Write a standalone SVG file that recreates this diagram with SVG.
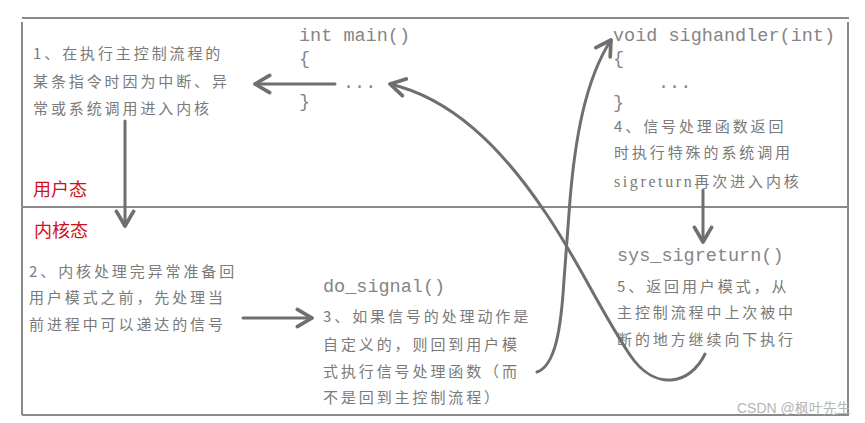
<svg xmlns="http://www.w3.org/2000/svg" width="865" height="423" viewBox="0 0 865 423">
<style>
.frame{stroke:#8a8a8a;stroke-width:2;fill:none}
.cn{font-family:"Noto Sans CJK SC","Liberation Sans",sans-serif;font-size:15px;fill:#7a7a7a;letter-spacing:2.9px}
.serif{font-family:"Liberation Serif",serif;font-size:16px;letter-spacing:2.6px}
.code{font-family:"Liberation Mono","DejaVu Sans Mono",monospace;font-size:18.5px;fill:#858585}
.mode{font-family:"Noto Sans CJK SC","Liberation Sans",sans-serif;font-size:18px;fill:#d0101a}
.conn{stroke:#6f6f6f;stroke-width:3;fill:none;stroke-linecap:round}
.wm{font-family:"Liberation Sans","Noto Sans CJK SC",sans-serif;font-size:14px;fill:#b5b5b5}
</style>
<defs>
<marker id="ah" markerUnits="userSpaceOnUse" markerWidth="22" markerHeight="22" refX="14" refY="9" orient="auto" viewBox="0 0 18 18">
<path d="M2,2 L14,9 L2,16" fill="none" stroke="#6f6f6f" stroke-width="3" stroke-linecap="round" stroke-linejoin="round"/>
</marker>
</defs>
<rect width="865" height="423" fill="#ffffff"/>
<g id="frame">
<line class="frame" x1="22" y1="18" x2="849" y2="18"/>
<line class="frame" x1="22" y1="22" x2="22" y2="415"/>
<line class="frame" x1="848" y1="22" x2="848" y2="415"/>
<line class="frame" x1="22" y1="415" x2="849" y2="415"/>
<line class="frame" x1="22" y1="207" x2="848" y2="207"/>
</g>
<g id="user-mode"><text class="mode" x="33" y="196">用户态</text></g>
<g id="kernel-mode"><text class="mode" x="34" y="237">内核态</text></g>
<g id="step1">
<text class="cn" x="33" y="59">1、在执行主控制流程的</text>
<text class="cn" x="33" y="87">某条指令时因为中断、异</text>
<text class="cn" x="33" y="114">常或系统调用进入内核</text>
</g>
<g id="main">
<text class="code" x="299" y="41">int main()</text>
<text class="code" x="299" y="64">{</text>
<text class="code" x="343" y="88">...</text>
<text class="code" x="299" y="107">}</text>
</g>
<g id="sighandler">
<text class="code" x="613" y="41">void sighandler(int)</text>
<text class="code" x="613" y="64">{</text>
<text class="code" x="658" y="88">...</text>
<text class="code" x="613" y="108">}</text>
</g>
<g id="step4">
<text class="cn" x="614" y="132">4、信号处理函数返回</text>
<text class="cn" x="614" y="158">时执行特殊的系统调用</text>
<text class="cn" x="614" y="187"><tspan class="serif">sigreturn</tspan>再次进入内核</text>
</g>
<g id="step2">
<text class="cn" x="29" y="277">2、内核处理完异常准备回</text>
<text class="cn" x="29" y="303">用户模式之前，先处理当</text>
<text class="cn" x="29" y="330">前进程中可以递达的信号</text>
</g>
<g id="do_signal">
<text class="code" x="323" y="292">do_signal()</text>
<text class="cn" x="323" y="322">3、如果信号的处理动作是</text>
<text class="cn" x="323" y="350">自定义的，则回到用户模</text>
<text class="cn" x="323" y="377">式执行信号处理函数（而</text>
<text class="cn" x="323" y="403">不是回到主控制流程）</text>
</g>
<g id="sys_sigreturn">
<text class="code" x="617" y="261">sys_sigreturn()</text>
<text class="cn" x="617" y="292">5、返回用户模式，从</text>
<text class="cn" x="617" y="318">主控制流程中上次被中</text>
<text class="cn" x="617" y="345">断的地方继续向下执行</text>
</g>
<g id="connectors">
<line class="conn" x1="335" y1="84" x2="255" y2="84" marker-end="url(#ah)"/>
<line class="conn" x1="125" y1="121" x2="125" y2="226" marker-end="url(#ah)"/>
<line class="conn" x1="243" y1="318" x2="312" y2="318" marker-end="url(#ah)"/>
<path class="conn" d="M537,372 C555,366 561,330 564,280 L570,200 C575,140 585,80 611,40" marker-end="url(#ah)"/>
<line class="conn" x1="703" y1="190" x2="703" y2="242" marker-end="url(#ah)"/>
<path class="conn" d="M705,354 C690,385 655,392 630,355 C600,310 575,255 545,212 C500,145 450,98 390,84" marker-end="url(#ah)"/>
</g>
<g id="watermark"><text class="wm" x="737" y="413">CSDN @枫叶先生</text></g>
</svg>
